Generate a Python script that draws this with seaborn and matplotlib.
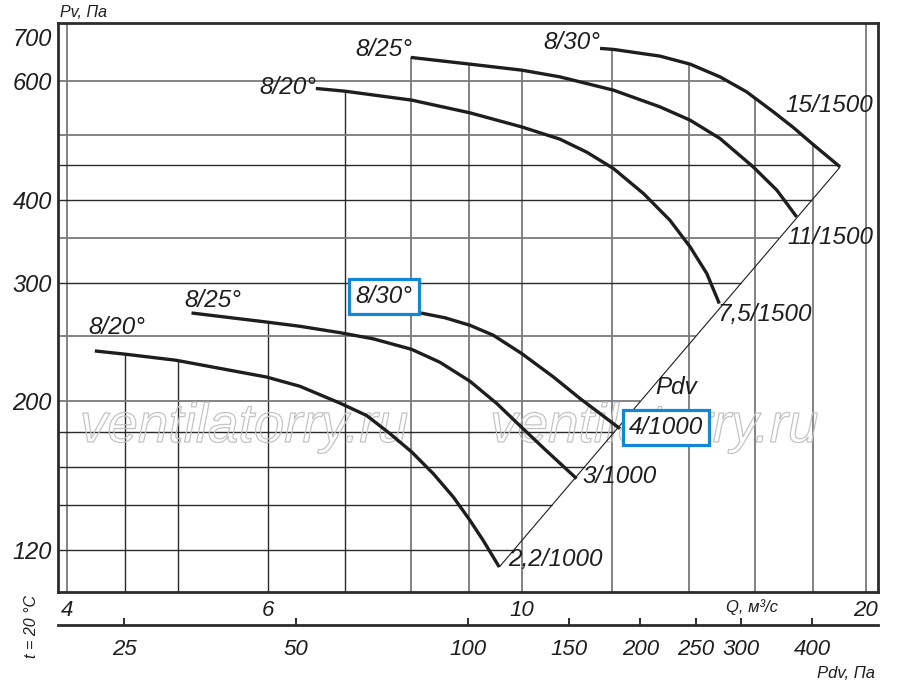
import numpy as np
import pandas as pd
import seaborn as sns
import matplotlib
matplotlib.use('Agg')
import matplotlib.pyplot as plt
import matplotlib.patheffects as pe
from matplotlib.ticker import NullLocator

# fan curves: Q in m3/s, Pv in Pa
q_a = [4.233, 4.506, 4.986, 5.983, 6.399, 6.935, 7.318, 7.670, 8.013, 8.370, 8.714, 9.011, 9.256, 9.559]
p_a = [237.9, 235.2, 230.4, 217.5, 210.7, 198.9, 190.6, 179.1, 168.2, 156.1, 144.1, 133.0, 124.1, 113.3]
q_b = [5.143, 5.983, 6.399, 6.935, 7.416, 8.013, 8.483, 9.011, 9.509, 10.0, 10.48, 11.17]
p_b = [271.0, 262.7, 258.9, 253.3, 248.0, 239.2, 228.8, 214.4, 198.7, 183.0, 169.7, 153.5]
q_c = [7.826, 8.176, 8.568, 9.011, 9.444, 10.0, 10.66, 11.25, 11.71, 12.19]
p_c = [272.6, 270.8, 266.6, 259.8, 251.1, 235.8, 217.6, 202.0, 191.9, 182.2]
q_d = [6.607, 7.001, 8.013, 9.011, 10.0, 10.80, 11.40, 12.03, 12.78, 13.48, 14.04, 14.52, 14.89]
p_d = [585.7, 580.3, 562.7, 538.7, 513.3, 492.2, 470.7, 445.0, 408.4, 372.6, 340.0, 310.3, 279.9]
q_e = [8.00, 9.011, 10.0, 10.80, 12.03, 13.21, 14.04, 14.91, 15.94, 16.72, 17.40]
p_e = [651.5, 636.7, 623.7, 609.5, 582.3, 549.9, 525.3, 493.3, 447.5, 413.1, 376.9]
q_f = [11.71, 12.03, 13.21, 14.04, 14.91, 15.73, 16.60, 17.28, 17.99, 18.99]
p_f = [672.0, 669.7, 654.5, 636.7, 609.5, 579.0, 540.6, 512.4, 483.1, 447.5]

angles = ['8/20°', '8/25°', '8/30°', '8/20°', '8/25°', '8/30°']
motors = ['2,2/1000', '3/1000', '4/1000', '7,5/1500', '11/1500', '15/1500']

# dynamic pressure Pdv = k * Q^2
PDV_COEF = 1.24
pdv_ticks = [25, 50, 100, 150, 200, 250, 300, 400]

q_ticks = [4, 6, 10, 20]
p_ticks = [120, 200, 300, 400, 600, 700]
q_grid_dark = [4.5, 5, 6, 7]
q_grid_light = [4, 8, 9, 10, 12, 14, 16, 18, 20]
p_grid_dark = [120, 140, 160, 180, 300, 400, 450]
p_grid_light = [200, 250, 350, 500, 600]

Q_LIM = (3.93, 20.5)
P_LIM = (104, 734)

curves = [dict(q=q, p=p, angle=a, motor=m) for q, p, a, m in zip(
    [q_a, q_b, q_c, q_d, q_e, q_f], [p_a, p_b, p_c, p_d, p_e, p_f], angles, motors)]
df = pd.concat([pd.DataFrame({'Q': c['q'], 'P': c['p'], 'curve': c['motor']}) for c in curves])

sns.set_style('white')
plt.rcParams['font.family'] = ['Liberation Sans', 'DejaVu Sans']
plt.rcParams['font.style'] = 'italic'
INK = '#1e1e1e'

fig, ax = plt.subplots(figsize=(9, 6.92), dpi=100)
fig.subplots_adjust(left=0.0644, right=0.9756, top=0.9672, bottom=0.1445)
ax.set_xscale('log')
ax.set_yscale('log')
ax.set_xlim(*Q_LIM)
ax.set_ylim(*P_LIM)


def top_at(q):
    tops = [np.exp(np.interp(np.log(q), np.log(c['q']), np.log(c['p'])))
            for c in curves if c['q'][0] <= q <= c['q'][-1]]
    return max(tops) if tops else P_LIM[1]


def right_at(p):
    top = curves[-1]
    if p <= top['p'][-1]:
        return np.sqrt(p / PDV_COEF)
    return np.exp(np.interp(np.log(p), np.log(top['p'][::-1]), np.log(top['q'][::-1])))


for qs, col, lw in [(q_grid_dark, '#2a2a2a', 1.0), (q_grid_light, '#7a7a7a', 1.3)]:
    for q in qs:
        ax.vlines(q, P_LIM[0], top_at(q), colors=col, lw=lw, zorder=1)
for ps, col, lw in [(p_grid_dark, '#2a2a2a', 1.0), (p_grid_light, '#7a7a7a', 1.3)]:
    for p in ps:
        ax.hlines(p, Q_LIM[0], right_at(p), colors=col, lw=lw, zorder=1)

# Pdv line through the curve ends
q_line = np.array([q_a[-1], q_f[-1]])
ax.plot(q_line, PDV_COEF * q_line ** 2, color=INK, lw=0.8, zorder=3)

sns.lineplot(data=df, x='Q', y='P', units='curve', estimator=None, sort=False,
             color=INK, lw=2.4, ax=ax, zorder=4, legend=False)
for ln in ax.get_lines():
    ln.set_solid_joinstyle('round')
    ln.set_solid_capstyle('butt')

angle_off = [(16.2, 16.7), (15.6, 9.1), (-11.5, 10.8), (-20.5, 0.5), (-19.2, 6.0), (-20.4, 4.2)]
motor_off = [(40.1, 5.3), (30.6, 1.2), (33.0, 0.6), (33.0, -7.7), (24.0, -14.9), (-7.9, 44.4)]
boxed = {2}
box = dict(boxstyle='square,pad=0.25', fc='white', ec='#1287d8', lw=2.3)
for i, c in enumerate(curves):
    ax.annotate(c['angle'], (c['q'][0], c['p'][0]), xytext=angle_off[i], textcoords='offset points',
                ha='center', va='center', fontsize=17.5, color=INK, zorder=6,
                bbox=box if i in boxed else None)
    ax.annotate(c['motor'], (c['q'][-1], c['p'][-1]), xytext=motor_off[i], textcoords='offset points',
                ha='center', va='center', fontsize=17.5, color=INK, zorder=6,
                bbox=box if i in boxed else None)

ax.annotate('Pdv', (13.0, PDV_COEF * 13.0 ** 2), xytext=(17.3, 0), textcoords='offset points',
            ha='center', va='center', fontsize=17.5, color=INK, zorder=6)

for xw in (0.0268, 0.527):
    ax.text(xw, 0.2635, 'ventilatorry.ru', transform=ax.transAxes, fontsize=39.5,
            color='none', ha='left', va='baseline', zorder=2,
            path_effects=[pe.Stroke(linewidth=0.9, foreground='#c4c4c4')])

ax.set_xticks(q_ticks, labels=[str(t) for t in q_ticks])
ax.set_yticks(p_ticks, labels=[str(t) for t in p_ticks])
ax.xaxis.set_minor_locator(NullLocator())
ax.yaxis.set_minor_locator(NullLocator())
ax.tick_params(axis='x', length=0, pad=5.5, labelsize=16, colors=INK)
ax.tick_params(axis='y', length=0, pad=4.3, labelsize=17, colors=INK)
ax.set_xlabel('')
ax.set_ylabel('')
for s in ax.spines.values():
    s.set_visible(True)
    s.set_linewidth(2.0)
    s.set_color('#2b2b2b')

sec = ax.secondary_xaxis(-0.058, functions=(lambda q: PDV_COEF * q ** 2,
                                            lambda p: np.sqrt(np.clip(p, 1e-9, None) / PDV_COEF)))
sec.set_xticks(pdv_ticks, labels=[str(t) for t in pdv_ticks])
sec.xaxis.set_minor_locator(NullLocator())
sec.tick_params(direction='in', length=5, width=1.3, pad=10, labelsize=16, colors=INK)
sec.spines['bottom'].set_linewidth(2.0)
sec.spines['bottom'].set_color('#2b2b2b')

fig.text(752 / 900, 1 - 606.7 / 692, 'Q, м³/с', ha='center', va='center', fontsize=12, color=INK)
fig.text(846 / 900, 1 - 674 / 692, 'Pdv, Па', ha='center', va='center', fontsize=12, color=INK)
fig.text(83 / 900, 1 - 12.5 / 692, 'Pv, Па', ha='center', va='center', fontsize=11.5, color=INK)
fig.text(31.7 / 900, 1 - 626.5 / 692, 't = 20 °C', ha='center', va='center', rotation=90,
         fontsize=11.5, color=INK)

fig.savefig('out.png', dpi=100)
plt.close(fig)
